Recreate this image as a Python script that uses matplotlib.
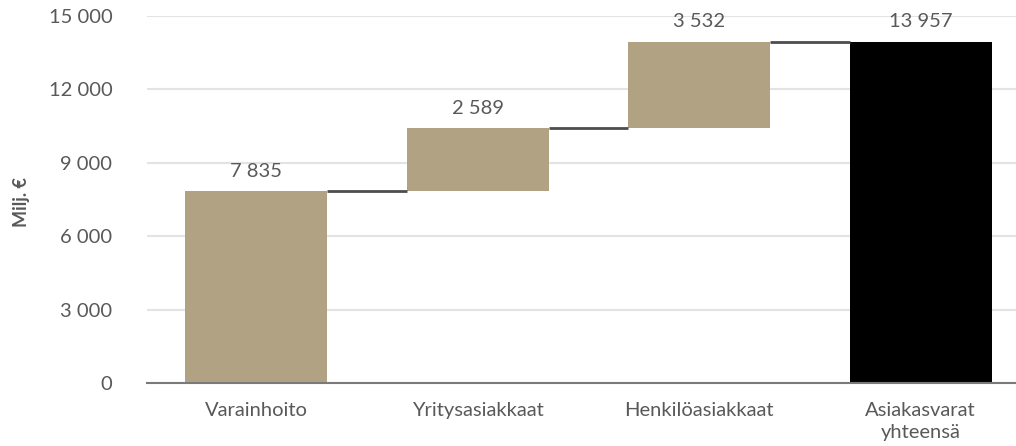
import matplotlib
matplotlib.use('Agg')
import matplotlib.pyplot as plt
from matplotlib.ticker import FuncFormatter

plt.rcParams['font.family'] = ['Lato', 'DejaVu Sans']

# data
categories = ['Varainhoito', 'Yritysasiakkaat', 'Henkilöasiakkaat', 'Asiakasvarat\nyhteensä']
steps = [7835, 2589, 3532]
total = 13957

TAN = '#b1a283'
GREY_TXT = '#595959'


def fmt(v):
    return f"{int(v):,}".replace(",", " ")


fig = plt.figure(figsize=(10.16, 4.46), dpi=100)
ax = fig.add_axes([147 / 1016, 1 - 383 / 446, 1 - 147 / 1016, (383 - 16) / 446])

width = 0.64
bottoms = []
acc = 0
for v in steps:
    bottoms.append(acc)
    acc += v

xs = list(range(len(categories)))
ax.bar(xs[:3], steps, bottom=bottoms, width=width, color=TAN, zorder=3)
ax.bar(xs[3], total, width=width, color='black', zorder=3)

# connectors between bars
levels = [bottoms[i] + steps[i] for i in range(3)]
for i, lvl in enumerate(levels):
    ax.plot([xs[i] + width / 2, xs[i + 1] - width / 2], [lvl, lvl],
            color='#4d4d4d', lw=2, zorder=4, solid_capstyle='butt')

# value labels
tops = levels + [total]
vals = steps + [total]
for x, top, v in zip(xs, tops, vals):
    ax.annotate(fmt(v), (x, top), xytext=(0, 8), textcoords='offset points',
                ha='center', va='bottom', fontsize=14.5, color=GREY_TXT)

ax.set_xlim(-0.493, 3.43)
ax.set_ylim(0, 15000)
ax.set_yticks(range(0, 15001, 3000))
ax.yaxis.set_major_formatter(FuncFormatter(lambda v, p: fmt(v)))
ax.set_xticks(xs)
ax.set_xticklabels(categories, linespacing=1.35)
ax.tick_params(axis='both', length=0, labelsize=14.5, labelcolor=GREY_TXT)
ax.tick_params(axis='y', pad=25)
ax.tick_params(axis='x', pad=14)

ax.grid(axis='y', color='#e3e3e3', lw=1.5, zorder=0)
for s in ['top', 'right', 'left']:
    ax.spines[s].set_visible(False)
ax.spines['bottom'].set_color('#7a7a7a')
ax.spines['bottom'].set_linewidth(1.5)
ax.spines['bottom'].set_zorder(5)

fig.text(22 / 1016, 1 - 202 / 446, 'Milj. €', rotation=90, ha='center', va='center',
         fontsize=13, fontweight='bold', color=GREY_TXT)

fig.savefig('out.png', dpi=100)
